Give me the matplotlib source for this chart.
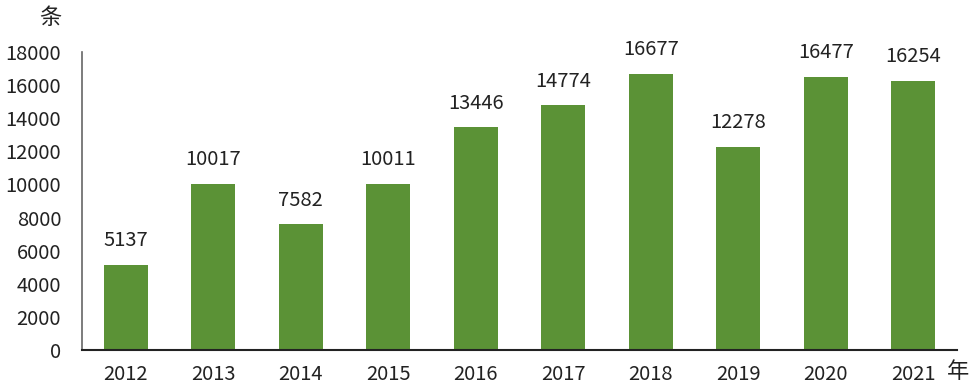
import matplotlib.pyplot as plt

plt.rcParams['font.family'] = ['Noto Sans CJK SC', 'DejaVu Sans']

years = ['2012', '2013', '2014', '2015', '2016', '2017', '2018', '2019', '2020', '2021']
counts = [5137, 10017, 7582, 10011, 13446, 14774, 16677, 12278, 16477, 16254]
yticks = list(range(0, 18001, 2000))

bar_color = '#5b9236'
text_color = '#222222'

fig = plt.figure(figsize=(9.76, 3.87), dpi=100)
ax = fig.add_axes([0.084, 0.0956, 0.8965, 0.77])

x = range(len(years))
bars = ax.bar(x, counts, width=0.5, color=bar_color)

for xi, v in zip(x, counts):
    ax.annotate(str(v), (xi, v), xytext=(0, 10), textcoords='offset points',
                ha='center', va='bottom', fontsize=14.5, color=text_color)

ax.set_xlim(-0.5, len(years) - 0.5)
ax.set_ylim(0, 18000)
ax.set_yticks(yticks)
ax.set_yticklabels([str(t) for t in yticks])
ax.set_xticks(list(x))
ax.set_xticklabels(years)
ax.tick_params(axis='both', length=0, labelsize=14.5, colors=text_color)
ax.tick_params(axis='y', pad=15)
ax.tick_params(axis='x', pad=10)

for s in ['top', 'right']:
    ax.spines[s].set_visible(False)
ax.spines['left'].set_color('#666666')
ax.spines['left'].set_linewidth(1.2)
ax.spines['bottom'].set_color('#222222')
ax.spines['bottom'].set_linewidth(1.5)

fig.text(50 / 976, 1 - 18 / 387, '条', ha='center', va='center', fontsize=16, color=text_color)
fig.text(958 / 976, 1 - 372 / 387, '年', ha='center', va='center', fontsize=16, color=text_color)

fig.savefig('out.png', dpi=100)
